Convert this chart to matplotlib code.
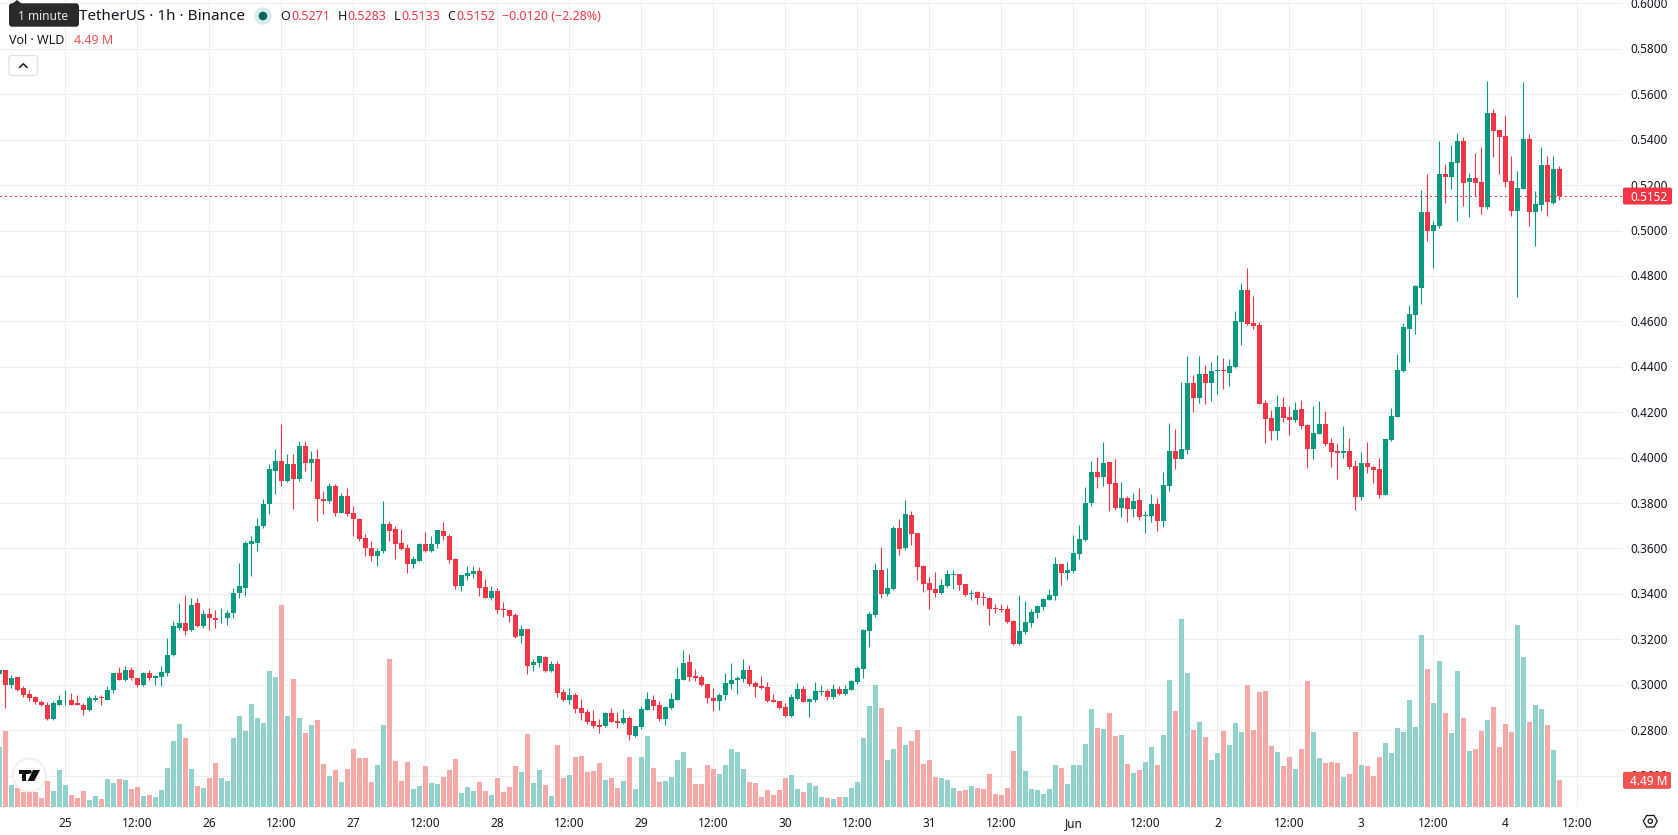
import matplotlib
matplotlib.use("Agg")
import matplotlib.pyplot as plt
from matplotlib.patches import Circle, FancyBboxPatch, Polygon

plt.rcParams["font.family"] = ["Noto Sans", "DejaVu Sans"]

# Hourly WLD/USDT candles, prices quoted in ticks of 0.0001.
# The first candle is 11 hours before 25 May 00:00.
FIRST_HOUR = -11
TICK = 0.0001

opens = [
    3047, 3063, 3001, 3032, 2984, 2960, 2944, 2926, 2913, 2847, 2913, 2931, 2935, 2918, 2913, 2887, 2935, 2946, 2935, 2975,
    3050, 3023, 3067, 3028, 2997, 3050, 3028, 3032, 3050, 3129, 3252, 3270, 3239, 3358, 3257, 3310, 3296, 3292, 3292, 3318,
    3402, 3428, 3618, 3626, 3697, 3794, 3943, 3987, 3895, 3970, 3908, 4053, 3978, 3996, 3820, 3811, 3877, 3758, 3833, 3758,
    3732, 3644, 3604, 3565, 3587, 3706, 3684, 3622, 3600, 3530, 3547,
    3618, 3587, 3618, 3675, 3653, 3552, 3433, 3477, 3486, 3499, 3429, 3381, 3411, 3332, 3328, 3306, 3213, 3244, 3086, 3094,
    3121, 3059, 3090, 2967, 2932, 2954, 2896, 2879, 2839, 2822, 2817, 2874, 2839, 2830, 2852, 2773, 2813, 2888, 2932, 2910,
    2848, 2896, 2932, 3020, 3099, 3037, 3033, 3002, 2940, 2927, 2954, 3002, 3020, 3024, 3064, 3006, 2993, 2989, 2932, 2927,
    2901, 2861, 2936, 2980, 2923, 2932, 2967, 2971, 2945, 2980, 2958, 2976, 3011, 3068, 3235, 3306, 3504, 3398, 3420, 3689,
    3601, 3746, 3667, 3521, 3447, 3420, 3403, 3433, 3482, 3486, 3442, 3398, 3407, 3385, 3381, 3336, 3332, 3332, 3279, 3178,
    3231, 3271, 3315, 3341, 3372, 3389, 3530, 3491, 3499, 3574, 3636, 3800, 3936, 3914, 3980, 3888, 3778, 3822, 3774, 3813,
    3743, 3743, 3796, 3721, 3875, 4029, 3994, 4033, 4328, 4262, 4368, 4328, 4381, 4385, 4372, 4399, 4597, 4737, 4592, 4583,
    4240, 4174, 4117, 4223, 4178, 4165, 4214, 4143, 4038, 4104, 4148, 4064, 4029, 4020, 4029, 3963, 3826, 3976, 3958, 3950,
    3835, 4077, 4178, 4381, 4566, 4627, 4748, 5082, 4999, 5021, 5249, 5236, 5298, 5395, 5214, 5232, 5214, 5104, 5518, 5443,
    5417, 5219, 5087, 5183, 5403, 5082, 5113, 5289, 5122, 5271,
]
highs = [
    3068, 3067, 3041, 3033, 2993, 2979, 2950, 2931, 2924, 2929, 2957, 2979, 2962, 2953, 2918, 2949, 2953, 2957, 2993, 3051,
    3076, 3081, 3076, 3029, 3054, 3067, 3045, 3081, 3204, 3279, 3362, 3397, 3380, 3384, 3327, 3336, 3331, 3340, 3327, 3424,
    3534, 3635, 3653, 3736, 3820, 3974, 4040, 4146, 4018, 4014, 4075, 4075, 4031, 4040, 3851, 3890, 3882, 3846, 3868, 3789,
    3736, 3662, 3631, 3600, 3811, 3723, 3701, 3684, 3618, 3569, 3626,
    3671, 3653, 3681, 3715, 3662, 3557, 3483, 3521, 3521, 3517, 3464, 3433, 3425, 3363, 3332, 3314, 3262, 3245, 3112, 3126,
    3125, 3103, 3103, 2980, 2984, 2962, 2936, 2892, 2888, 2848, 2879, 2896, 2879, 2892, 2861, 2818, 2905, 2967, 2954, 2927,
    2905, 2962, 3077, 3152, 3134, 3068, 3042, 3003, 2984, 2962, 3050, 3094, 3037, 3112, 3086, 3015, 3037, 3011, 2958, 2928,
    2918, 2958, 3006, 2993, 2940, 3011, 2998, 2980, 3002, 2993, 2998, 3020, 3081, 3244, 3319, 3535, 3605, 3513, 3697, 3728,
    3812, 3763, 3668, 3526, 3473, 3495, 3464, 3504, 3504, 3487, 3443, 3416, 3411, 3407, 3385, 3354, 3354, 3350, 3284, 3394,
    3367, 3332, 3350, 3381, 3420, 3561, 3531, 3539, 3658, 3702, 3869, 3985, 4003, 4069, 3981, 3994, 3892, 3831, 3844, 3866,
    3765, 3840, 3822, 3936, 4152, 4126, 4333, 4447, 4363, 4447, 4407, 4421, 4451, 4438, 4434, 4645, 4768, 4834, 4711, 4597,
    4253, 4209, 4275, 4267, 4227, 4245, 4253, 4148, 4227, 4249, 4205, 4086, 4064, 4139, 4086, 3989, 4025, 4069, 3963, 3998,
    4083, 4218, 4456, 4592, 4671, 4759, 5179, 5249, 5043, 5395, 5293, 5377, 5430, 5412, 5254, 5342, 5368, 5659, 5535, 5444,
    5509, 5329, 5263, 5654, 5425, 5175, 5368, 5329, 5329, 5283,
]
lows = [
    3040, 2897, 2985, 2972, 2946, 2928, 2915, 2905, 2846, 2846, 2909, 2913, 2912, 2912, 2869, 2886, 2927, 2909, 2931, 2962,
    3019, 3015, 3023, 2988, 2993, 3019, 2997, 2993, 3037, 3128, 3239, 3217, 3238, 3256, 3252, 3243, 3248, 3270, 3265, 3296,
    3380, 3389, 3477, 3587, 3692, 3750, 3842, 3877, 3894, 3772, 3895, 3943, 3895, 3723, 3754, 3802, 3745, 3757, 3745, 3657,
    3635, 3569, 3543, 3521, 3582, 3635, 3552, 3595, 3494, 3512, 3546,
    3583, 3583, 3601, 3636, 3535, 3420, 3411, 3460, 3469, 3389, 3380, 3372, 3315, 3297, 3275, 3208, 3182, 3046, 3059, 3077,
    3058, 3058, 2945, 2927, 2914, 2874, 2844, 2826, 2808, 2786, 2816, 2834, 2808, 2829, 2756, 2769, 2804, 2887, 2888, 2839,
    2822, 2895, 2931, 3019, 3015, 3015, 2993, 2918, 2883, 2888, 2932, 2980, 2958, 3011, 2993, 2945, 2983, 2926, 2922, 2892,
    2857, 2857, 2932, 2922, 2857, 2923, 2954, 2932, 2936, 2957, 2957, 2975, 3002, 3028, 3165, 3297, 3381, 3389, 3416, 3570,
    3592, 3614, 3460, 3407, 3332, 3385, 3398, 3432, 3420, 3416, 3389, 3372, 3354, 3350, 3262, 3315, 3319, 3274, 3174, 3177,
    3222, 3253, 3293, 3328, 3371, 3372, 3438, 3460, 3491, 3552, 3635, 3787, 3866, 3875, 3765, 3769, 3738, 3716, 3738, 3725,
    3668, 3716, 3677, 3694, 3853, 3950, 3993, 4016, 4200, 4240, 4236, 4249, 4280, 4302, 4315, 4394, 4495, 4583, 4566, 4235,
    4064, 4077, 4077, 4156, 4099, 4156, 4126, 3954, 3994, 4103, 4051, 3958, 3906, 3998, 3950, 3769, 3813, 3932, 3888, 3822,
    3834, 4073, 4177, 4377, 4421, 4544, 4677, 4955, 4836, 5012, 5122, 5183, 5043, 5109, 5060, 5153, 5073, 5095, 5324, 5249,
    5192, 5065, 4708, 5182, 5021, 4932, 5087, 5065, 5117, 5133,
]
closes = [
    3064, 3001, 3031, 2979, 2957, 2940, 2922, 2909, 2847, 2918, 2935, 2935, 2913, 2913, 2887, 2940, 2940, 2941, 2979, 3050,
    3023, 3063, 3028, 2997, 3050, 3028, 3037, 3054, 3133, 3257, 3270, 3235, 3353, 3257, 3310, 3292, 3287, 3296, 3318, 3406,
    3433, 3622, 3631, 3701, 3798, 3948, 3987, 3895, 3970, 3908, 4053, 3978, 3996, 3816, 3811, 3877, 3758, 3833, 3750, 3728,
    3640, 3600, 3569, 3591, 3706, 3675, 3618, 3596, 3530, 3552, 3618,
    3587, 3618, 3680, 3653, 3548, 3433, 3482, 3491, 3499, 3425, 3381, 3411, 3328, 3328, 3301, 3209, 3244, 3081, 3099, 3125,
    3059, 3090, 2962, 2932, 2954, 2892, 2874, 2835, 2817, 2813, 2874, 2835, 2830, 2852, 2778, 2817, 2892, 2936, 2905, 2848,
    2901, 2936, 3024, 3094, 3033, 3028, 2998, 2940, 2927, 2954, 3006, 3020, 3028, 3064, 3002, 2989, 2984, 2927, 2923, 2896,
    2861, 2945, 2980, 2923, 2936, 2971, 2971, 2945, 2980, 2958, 2980, 3015, 3072, 3240, 3310, 3504, 3398, 3425, 3689, 3596,
    3750, 3662, 3517, 3442, 3416, 3403, 3438, 3486, 3486, 3438, 3394, 3403, 3381, 3381, 3332, 3332, 3328, 3275, 3178, 3235,
    3275, 3319, 3345, 3376, 3394, 3530, 3491, 3504, 3579, 3640, 3799, 3936, 3914, 3976, 3884, 3778, 3822, 3774, 3809, 3738,
    3747, 3796, 3721, 3879, 4029, 3994, 4038, 4328, 4262, 4368, 4328, 4381, 4385, 4381, 4403, 4601, 4737, 4588, 4579, 4236,
    4170, 4117, 4223, 4174, 4165, 4209, 4139, 4038, 4108, 4148, 4060, 4025, 4020, 4029, 3958, 3826, 3976, 3958, 3945, 3835,
    4082, 4183, 4385, 4575, 4632, 4755, 5082, 4999, 5025, 5249, 5236, 5302, 5395, 5210, 5232, 5210, 5104, 5518, 5439, 5412,
    5214, 5087, 5188, 5403, 5082, 5117, 5289, 5126, 5271, 5152,
]
# Hourly traded volume, millions of WLD.
volumes = [
    10.10, 12.79, 3.70, 3.20, 2.52, 2.52, 2.52, 1.51, 4.38, 2.69, 6.23, 3.70, 2.02, 1.51, 2.69, 1.18, 1.85, 1.35, 4.71, 4.04,
    4.71, 4.54, 3.03, 3.37, 1.85, 2.02, 1.68, 2.86, 6.56, 11.11, 13.97, 11.61, 6.40, 3.53, 3.20, 4.88, 7.41, 4.88, 4.38, 11.61,
    15.32, 12.79, 17.33, 14.98, 14.14, 22.89, 21.88, 34.00, 15.32, 21.54, 14.98, 12.45, 13.80, 14.64, 7.24, 5.22, 6.23, 4.21, 6.40, 9.76,
    8.25, 8.25, 4.21, 7.07, 13.80, 24.91, 7.74, 4.38, 7.57, 3.03, 3.53,
    6.84, 3.98, 3.81, 4.99, 6.17, 8.02, 2.30, 3.31, 2.64, 4.15, 2.64, 1.96, 4.82, 2.47, 3.31, 6.84, 5.83, 12.23, 3.98, 6.17,
    3.65, 1.80, 10.38, 4.82, 5.33, 8.36, 8.53, 5.83, 6.00, 7.35, 4.49, 4.82, 3.14, 4.32, 8.36, 2.97, 8.36, 11.89, 6.51, 4.15,
    4.32, 4.99, 7.85, 9.20, 6.51, 3.81, 3.81, 7.01, 6.34, 5.50, 7.01, 9.71, 9.20, 6.34, 4.15, 3.98, 1.63, 2.81, 1.96, 2.81,
    4.82, 5.33, 2.97, 2.47, 3.98, 3.48, 1.63, 1.46, 1.29, 1.63, 1.63, 3.14, 4.15, 11.56, 16.94, 20.48, 16.61, 7.85, 9.71, 13.41,
    10.38, 11.05, 12.90, 7.18, 7.85, 4.99, 4.82, 4.49, 3.14, 2.64, 2.81, 3.48, 3.14, 2.97, 5.50, 2.13, 1.96, 3.14, 9.37, 15.26,
    6.00, 2.97, 2.81, 2.13, 2.97, 7.01, 6.51, 3.81, 7.01, 7.01, 10.55, 16.44, 13.24, 13.07, 15.76, 11.89, 12.06, 7.18, 5.67, 6.17,
    7.52, 10.04, 7.01, 12.06, 21.32, 16.10, 31.58, 22.50, 12.90, 14.25, 11.72, 7.85, 9.03, 12.73, 10.38, 14.08, 12.57, 20.48, 12.90, 19.30,
    19.47, 10.21, 9.20, 6.84, 8.36, 6.34, 9.71, 21.15, 12.57, 8.19, 7.35, 7.52, 7.35, 4.99, 5.50, 12.57, 7.01, 6.84, 5.16, 8.36,
    10.72, 9.03, 13.24, 12.57, 17.95, 13.41, 28.89, 23.17, 17.45, 24.52, 15.76, 12.40, 22.83, 14.92, 9.37, 9.71, 12.73, 14.59, 16.77, 10.04,
    13.91, 12.57, 30.57, 25.19, 14.25, 17.11, 16.44, 13.74, 9.54, 4.49,
]

# Time axis labels, keyed by hours since 25 May 00:00.
day_labels = ["25", "26", "27", "28", "29", "30", "31", "Jun", "2", "3", "4"]
noon_labels = ["12:00"] * 11
price_ticks = [0.26, 0.28, 0.30, 0.32, 0.34, 0.36, 0.38, 0.40, 0.42, 0.44, 0.46, 0.48,
               0.50, 0.52, 0.54, 0.56, 0.58, 0.60]

FIG_W, FIG_H = 1678, 835
PANE_R, PANE_B = 1622, 807
UP, DOWN = "#089981", "#F23645"
UP_VOL, DOWN_VOL = "#92D2CC", "#F7A9A7"
TAG_RED = "#EF5350"
GRID = "#EEEEEE"
INK = "#131722"

fig = plt.figure(figsize=(FIG_W / 100, FIG_H / 100), dpi=100, facecolor="white")
pane = [0, (FIG_H - PANE_B) / FIG_H, PANE_R / FIG_W, PANE_B / FIG_H]

# Volume sits on its own scale underneath the candles.
axv = fig.add_axes(pane)
axv.set_xlim(-10.888, 259.44)
axv.set_ylim(0, 135.86)
axv.axis("off")

ax = fig.add_axes(pane)
ax.patch.set_alpha(0)
ax.set_xlim(-10.888, 259.44)
ax.set_ylim(0.24617, 0.60152)
for s in ax.spines.values():
    s.set_visible(False)
ax.set_xticks([])
ax.set_yticks([])

hours = [FIRST_HOUR + i for i in range(len(opens))]
o = [v * TICK for v in opens]
h = [v * TICK for v in highs]
l = [v * TICK for v in lows]
c = [v * TICK for v in closes]
up = [ci >= oi for oi, ci in zip(o, c)]

# Grid lines go behind everything.
for k in range(-12, 260, 12):
    axv.axvline(k, color=GRID, lw=0.72, zorder=0)
for p in price_ticks:
    axv.axhline(axv.transData.inverted().transform(ax.transData.transform((0, p)))[1],
                color=GRID, lw=0.72, zorder=0)

axv.bar(hours, volumes, width=5 / 6, linewidth=0, antialiased=False,
        color=[UP_VOL if u else DOWN_VOL for u in up], zorder=2)

wicks = ax.vlines(hours, l, h, colors=[UP if u else DOWN for u in up], lw=0.8, zorder=3)
wicks.set_snap(True)
ax.bar(hours, [abs(a - b) for a, b in zip(o, c)], bottom=[min(a, b) for a, b in zip(o, c)],
       width=5 / 6, linewidth=0, antialiased=False, color=[UP if u else DOWN for u in up], zorder=4)

last_price = c[-1]
ax.axhline(last_price, color=DOWN, lw=0.75, linestyle=(0, (1, 3)), antialiased=False, zorder=5)

# Full-figure overlay in pixel coordinates for labels and interface furniture.
ui = fig.add_axes([0, 0, 1, 1])
ui.set_xlim(0, FIG_W)
ui.set_ylim(FIG_H, 0)
ui.axis("off")
ui.patch.set_alpha(0)


def to_pixel_y(axes, value):
    """Pixel row of a data value on the given axes."""
    return FIG_H - axes.transData.transform((0, value))[1]


def x_pixel(hour):
    return ax.transData.transform((hour, 0))[0]


def rounded(x0, y0, x1, y1, r, **kw):
    ui.add_patch(FancyBboxPatch((x0 + r, y0 + r), x1 - x0 - 2 * r, y1 - y0 - 2 * r,
                                boxstyle=f"round,pad={r},rounding_size={r}", **kw))


TEXT_PT = 8.5
for p in price_ticks:
    ui.text(1630.3, to_pixel_y(ax, p) + 1, f"{p:.4f}", fontsize=TEXT_PT, color=INK, va="center", ha="left",
            clip_on=False)

for i, lab in enumerate(day_labels):
    ui.text(x_pixel(24 * i), 823.5, lab, fontsize=TEXT_PT, color=INK, ha="center", va="center",
            fontweight="bold" if lab == "Jun" else "normal")
for i, lab in enumerate(noon_labels):
    ui.text(x_pixel(12 + 24 * i), 823.5, lab, fontsize=TEXT_PT, color=INK, ha="center", va="center")

# Last-price and last-volume tags on the right scale.
py = to_pixel_y(ax, last_price)
rounded(1623, py - 8.5, 1672, py + 8.5, 2, facecolor=DOWN, edgecolor="none", zorder=6)
ui.text(1630.3, py + 1, f"{last_price:.4f}", fontsize=TEXT_PT, color="white", va="center", ha="left", zorder=7)
vy = to_pixel_y(axv, volumes[-1])
rounded(1623, vy - 8.5, 1671, vy + 8.5, 2, facecolor=TAG_RED, edgecolor="none", zorder=6)
ui.text(1630.3, vy + 1, f"{volumes[-1]:.2f} M", fontsize=TEXT_PT, color="white", va="center", ha="left", zorder=7)

# Legend rows at the top left.
ui.text(79, 17, "TetherUS · 1h · Binance", fontsize=11.0, color=INK, va="center", ha="left")
ui.add_patch(Circle((263, 16), 8.7, facecolor="#D5EDE9", edgecolor="none"))
ui.add_patch(Circle((263, 16), 4.3, facecolor="#056656", edgecolor="none"))
row = [(280, "O", INK), (291.4, "0.5271", DOWN), (338, "H", INK), (347, "0.5283", DOWN),
       (393.4, "L", INK), (401, "0.5133", DOWN), (447, "C", INK), (456, "0.5152", DOWN),
       (502, "−0.0120 (−2.28%)", DOWN)]
for x, s, col in row:
    ui.text(x, 17, s, fontsize=9.0, color=col, va="center", ha="left")
ui.text(9, 41, "Vol · WLD", fontsize=9.0, color=INK, va="center", ha="left")
ui.text(74, 41, "4.49 M", fontsize=9.0, color=TAG_RED, va="center", ha="left")

# Tooltip over the symbol name.
ui.add_patch(Polygon([(12, 4), (17, 0), (22, 4)], facecolor="#2A2A2A", edgecolor="none", zorder=8))
rounded(9, 3.3, 79, 26.7, 3, facecolor="#2A2A2A", edgecolor="none", zorder=8)
ui.text(43.5, 16, "1 minute", fontsize=8.6, color="#E8E8E8", ha="center", va="center", zorder=9)

# Collapse button.
rounded(9, 55.5, 37.5, 75.5, 3, facecolor="white", edgecolor="#E0E3EB", lw=1)
ui.plot([19.5, 23.3, 27.1], [67.5, 63.8, 67.5], color=INK, lw=1.1, solid_capstyle="round")

# Logo badge.
ui.add_patch(Circle((29.3, 775), 16.5, facecolor="white", edgecolor="#EDEDED", lw=1.2, zorder=8))
ui.add_patch(Polygon([(19, 770), (28.5, 770), (28.5, 773.5), (25.8, 773.5), (25.8, 781), (22.2, 781),
                      (22.2, 773.5), (19, 773.5)], facecolor="#111111", edgecolor="none", zorder=9))
ui.add_patch(Circle((29.8, 771.8), 1.9, facecolor="#111111", edgecolor="none", zorder=9))
ui.add_patch(Polygon([(33, 770), (40, 770), (34.3, 781), (27.7, 781)], facecolor="#111111",
                     edgecolor="none", zorder=9))

# Settings icon in the axis corner.
ui.add_patch(Polygon([(1643.3, 821.2), (1646.7, 815.5), (1654, 815.5), (1657.3, 821.2), (1654, 827), (1646.7, 827)],
                     facecolor="white", edgecolor=INK, lw=0.9))
ui.add_patch(Circle((1650.3, 821.2), 2.2, facecolor="white", edgecolor=INK, lw=0.9))

fig.savefig("out.png", dpi=100, facecolor="white")
